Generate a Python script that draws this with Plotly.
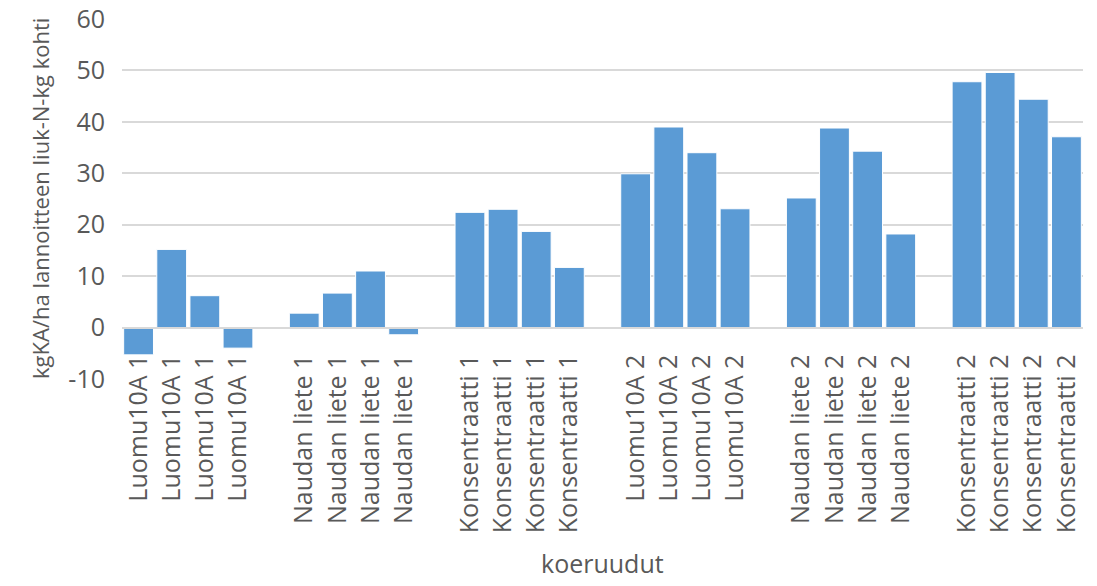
import plotly.graph_objects as go

# Treatment groups and their measured values (four plots per treatment)
groups = ["Luomu10A 1", "Naudan liete 1", "Konsentraatti 1",
          "Luomu10A 2", "Naudan liete 2", "Konsentraatti 2"]
luomu1 = [-5.3, 15.2, 6.2, -4.0]
naudan1 = [2.8, 6.7, 11.0, -1.4]
konsentraatti1 = [22.4, 23.0, 18.7, 11.7]
luomu2 = [29.9, 39.0, 34.0, 23.1]
naudan2 = [25.2, 38.8, 34.3, 18.2]
konsentraatti2 = [47.8, 49.6, 44.4, 37.1]
series = [luomu1, naudan1, konsentraatti1, luomu2, naudan2, konsentraatti2]

y_ticks = [-10, 0, 10, 20, 30, 40, 50, 60]
y_tick_text = ["-10", "0", "10", "20", "30", "40", "50", "60"]

# Lay bars out in slots, leaving one empty slot between treatment groups
xs, ys, labels = [], [], []
for gi, (name, vals) in enumerate(zip(groups, series)):
    for bi, v in enumerate(vals):
        xs.append(gi * 5 + bi)
        ys.append(v)
        labels.append(name)

FONT = "Open Sans"
TXT = "#595959"
GRID = "#d9d9d9"

fig = go.Figure(go.Bar(
    x=xs, y=ys, width=0.9,
    marker=dict(color="#5b9bd5", line=dict(color="#ffffff", width=1)),
))

fig.update_layout(
    width=1097, height=586,
    margin=dict(l=122, r=14, t=19, b=207),
    paper_bgcolor="white", plot_bgcolor="white",
    showlegend=False,
    font=dict(family=FONT, color=TXT, size=25),
    xaxis=dict(
        range=[-0.5, 28.5],
        tickmode="array", tickvals=xs, ticktext=labels,
        tickangle=-90, ticklabelstandoff=16,
        showgrid=False, zeroline=False,
        showline=True, linecolor=GRID, linewidth=2,
        anchor="free", position=(0 - (-10)) / (60 - (-10)),
        ticks="", tickfont=dict(size=25, color=TXT),
        automargin=False,
    ),
    yaxis=dict(
        range=[-10, 60], tickmode="array", tickvals=y_ticks, ticktext=y_tick_text,
        showgrid=True, gridcolor=GRID, gridwidth=2,
        zeroline=False, showline=False, ticks="",
        ticklabelstandoff=16, tickfont=dict(size=25, color=TXT),
        automargin=False,
    ),
    annotations=[
        dict(text="koeruudut", xref="paper", yref="paper",
             x=0.5, y=-0.51, xanchor="center", yanchor="middle",
             showarrow=False, font=dict(size=25, color=TXT)),
        dict(text="kgKA/ha lannoitteen liuk-N-kg kohti", xref="paper", yref="paper",
             x=(40 - 122) / 961, y=0.5, xanchor="center", yanchor="middle",
             textangle=-90, showarrow=False, font=dict(size=22, color=TXT)),
    ],
)

fig.write_html("out.html")
